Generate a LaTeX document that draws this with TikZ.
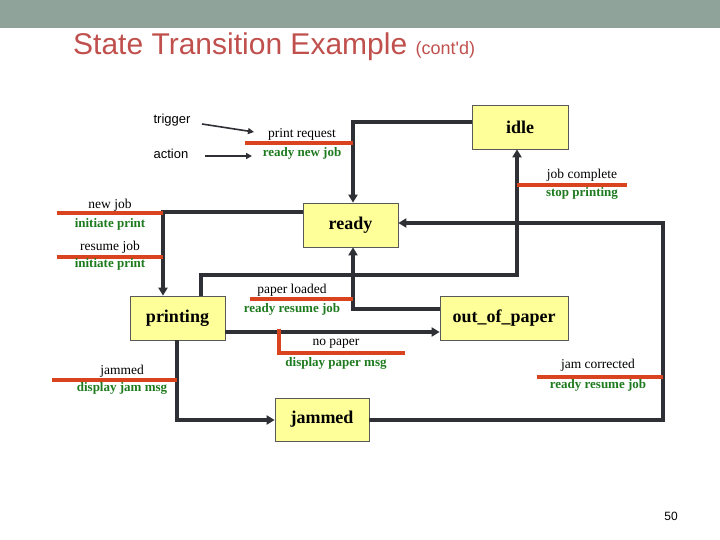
\documentclass[tikz,border=0pt]{standalone}
\usepackage{fontspec}
\setmainfont{Liberation Serif}
\newfontfamily\ars{Liberation Sans}
\usetikzlibrary{arrows.meta}
\definecolor{barc}{HTML}{8FA39A}
\definecolor{titc}{HTML}{C0504D}
\definecolor{boxf}{HTML}{FFFF99}
\definecolor{redl}{HTML}{D9441E}
\definecolor{grn}{HTML}{1E7A1E}
\definecolor{lnc}{HTML}{2F3035}
\begin{document}
\begin{tikzpicture}[x=1pt,y=-1pt,
  state/.style={draw=gray!70!black,line width=0.7pt,fill=boxf,font=\bfseries\fontsize{18}{20}\selectfont,inner sep=0pt},
  conn/.style={draw=lnc,line width=3.2pt,-{Triangle[length=8pt,width=9pt]}},
  red/.style={draw=redl,line width=3.2pt},
  trig/.style={font=\fontsize{13.5}{15}\selectfont,text=black,inner sep=0pt},
  act/.style={font=\bfseries\fontsize{13}{15}\selectfont,text=grn,inner sep=0pt},
  thin/.style={draw=lnc,line width=1.6pt,-{Triangle[length=6pt,width=6pt]}}]
\useasboundingbox (0,0) rectangle (720,540);
\fill[barc] (0,0) rectangle (720,28);
\node[anchor=west,text=titc,inner sep=0pt] (title) at (73,47) {\ars\fontsize{30}{34}\selectfont State Transition Example \fontsize{18}{20}\selectfont(cont'd)};
% states
\node[state,minimum width=96pt,minimum height=44pt] (idle) at (520,127) {idle};
\node[state,minimum width=95pt,minimum height=44pt] (ready) at (350.5,225) {ready};
\node[state,minimum width=95pt,minimum height=44pt] (printing) at (177.5,318) {printing};
\node[state,minimum width=128pt,minimum height=44pt] (oop) at (504,318) {out\_of\_paper};
\node[state,minimum width=94pt,minimum height=43pt] (jammed) at (322,419.5) {jammed};
% legend
\node[trig,font=\ars\fontsize{13}{15}\selectfont] (trigger) at (172,120) {trigger};
\node[trig,font=\ars\fontsize{13}{15}\selectfont] (action) at (171,154) {action};
\coordinate (tA) at (202,124); \coordinate (tB) at (254,132);
\coordinate (aA) at (205,156); \coordinate (aB) at (252,156);
\draw[thin] (tA) -- (tB);
\draw[thin] (aA) -- (aB);
% connectors
\coordinate (c1) at (353,122);
\draw[conn] (idle.west |- c1) -- (c1) -- (c1 |- ready.north);
\coordinate (c2) at (163,212);
\draw[conn] (ready.west |- c2) -- (c2) -- (c2 |- printing.north);
\coordinate (c3) at (201,275); \coordinate (c4) at (517,275);
\draw[conn] (c3 |- printing.north) -- (c3) -- (c4) -- (c4 |- idle.south);
\coordinate (c5) at (353,309);
\draw[conn] (oop.west |- c5) -- (c5) -- (c5 |- ready.south);
\coordinate (c6) at (225,332);
\draw[conn] (c6) -- (c6 -| oop.west);
\coordinate (c7) at (177,420);
\draw[conn] (c7 |- printing.south) -- (c7) -- (c7 -| jammed.west);
\coordinate (c8) at (663,420); \coordinate (c9) at (663,223);
\draw[conn] (jammed.east |- c8) -- (c8) -- (c9) -- (c9 -| ready.east);
% trigger/action labels
\draw[red] (245,143) -- (353,143);
\node[trig] (l1t) at (302,134) {print request};
\node[act] (l1a) at (302,153) {ready new job};
\draw[red] (57,213) -- (163,213);
\node[trig] (l2t) at (110,205) {new job};
\node[act] (l2a) at (110,224) {initiate print};
\draw[red] (57,257) -- (163,257);
\node[trig] (l3t) at (110,247) {resume job};
\node[act] (l3a) at (110,264) {initiate print};
\draw[red] (250,299) -- (353,299);
\node[trig] (l4t) at (292,290) {paper loaded};
\node[act] (l4a) at (292,309) {ready resume job};
\draw[red] (279,329) -- (279,353) -- (405,353);
\node[trig] (l5t) at (336,344) {no paper};
\node[act] (l5a) at (336,363) {display paper msg};
\draw[red] (52,380) -- (177,380);
\node[trig] (l6t) at (122,371) {jammed};
\node[act] (l6a) at (122,388) {display jam msg};
\draw[red] (517,185) -- (627,185);
\node[trig] (l7t) at (582,175) {job complete};
\node[act] (l7a) at (582,193) {stop printing};
\draw[red] (537,377) -- (663,377);
\node[trig] (l8t) at (598,365) {jam corrected};
\node[act] (l8a) at (598,385) {ready resume job};
\node[trig,font=\ars\fontsize{12}{14}\selectfont] (pg) at (671,516) {50};
\end{tikzpicture}
\end{document}
